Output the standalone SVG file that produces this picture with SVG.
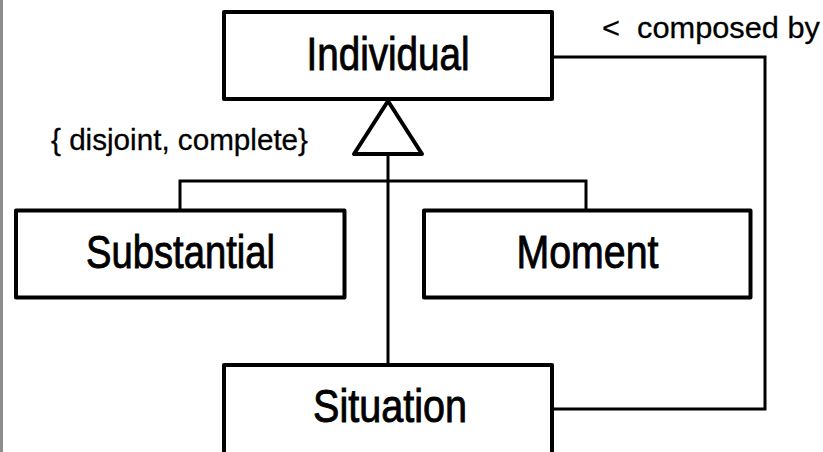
<svg xmlns="http://www.w3.org/2000/svg" width="823" height="452" viewBox="0 0 823 452">
  <style>
    .box { fill: #ffffff; stroke: #000000; stroke-width: 4; stroke-linejoin: round; }
    .name { font-family: "Liberation Sans", Arial, sans-serif; font-size: 47px; fill: #000000; stroke: #000000; stroke-width: 0.9; text-anchor: middle; }
    .note { font-family: "Liberation Sans", Arial, sans-serif; font-size: 30px; fill: #000000; stroke: #000000; stroke-width: 0.3; white-space: pre; }
    .wire { fill: none; stroke: #000000; stroke-width: 3; stroke-linejoin: miter; }
    .head { fill: #ffffff; stroke: #000000; stroke-width: 4; stroke-linejoin: round; }
  </style>
  <rect x="0" y="0" width="823" height="452" fill="#ffffff"/>
  <rect x="0" y="0" width="3" height="452" fill="#8c8c8c"/>

  <!-- connectors -->
  <g id="connectors">
    <!-- composition: Situation to Individual -->
    <path class="wire" d="M552,57 H765 V409 H552"/>
    <!-- generalization tree -->
    <path class="wire" d="M388,154 V365"/>
    <path class="wire" d="M180,210 V181 H586 V210"/>
    <polygon class="head" points="388,101 354,154 422,154"/>
  </g>

  <g id="individual">
    <rect class="box" x="224" y="12" width="328" height="87"/>
    <text class="name" x="388" y="70" textLength="163" lengthAdjust="spacingAndGlyphs">Individual</text>
  </g>

  <g id="substantial">
    <rect class="box" x="16" y="210.5" width="328.5" height="87"/>
    <text class="name" x="180.5" y="268" textLength="189" lengthAdjust="spacingAndGlyphs">Substantial</text>
  </g>

  <g id="moment">
    <rect class="box" x="424" y="210.5" width="326.5" height="87"/>
    <text class="name" x="587.5" y="268" textLength="142" lengthAdjust="spacingAndGlyphs">Moment</text>
  </g>

  <g id="situation">
    <rect class="box" x="224" y="365" width="328" height="100"/>
    <text class="name" x="390" y="422" textLength="154" lengthAdjust="spacingAndGlyphs">Situation</text>
  </g>

  <g id="labels">
    <text class="note" x="51" y="150" textLength="257" lengthAdjust="spacingAndGlyphs">{ disjoint, complete}</text>
    <text class="note" x="602" y="38" textLength="218" lengthAdjust="spacingAndGlyphs">&lt;  composed by</text>
  </g>
</svg>
